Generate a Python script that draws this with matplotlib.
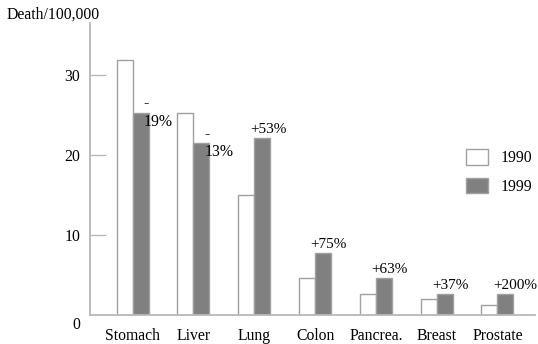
import numpy as np
from matplotlib import pyplot as plt
from matplotlib import transforms

# Chart data
cancers = ["Stomach", "Liver", "Lung", "Colon", "Pancrea.", "Breast", "Prostate"]
deaths_1990 = [31.9, 25.3, 15.0, 4.6, 2.6, 2.0, 1.3]
deaths_1999 = [25.3, 21.5, 22.1, 7.8, 4.6, 2.6, 2.6]
changes = ["-\n19%", "-\n13%", "+53%", "+75%", "+63%", "+37%", "+200%"]
years = ["1990", "1999"]
y_ticks = [10, 20, 30]

plt.rcParams["font.family"] = ["Liberation Serif", "DejaVu Serif"]
plt.rcParams["font.size"] = 11.3

fig = plt.figure(figsize=(5.38, 3.44), dpi=100)
ax = fig.add_axes([0.1673, 0.0843, 0.8271, 0.8488])

x = np.arange(len(cancers))
w = 0.263
edge = "#a0a0a0"
grey = "#808080"

bars_a = ax.bar(x - w / 2, deaths_1990, w, color="white", edgecolor=edge,
                linewidth=1, label=years[0])
bars_b = ax.bar(x + w / 2, deaths_1999, w, color=grey, edgecolor=edge,
                linewidth=1, label=years[1])

# percentage change labels
for i, txt in enumerate(changes):
    top = deaths_1999[i]
    if txt.startswith("-"):
        off = transforms.offset_copy(ax.transData, fig=fig, x=-5, y=0,
                                     units="dots")
        ax.text(x[i] + w, top, txt, ha="left", va="center", transform=off,
                linespacing=1.2)
    else:
        off = transforms.offset_copy(ax.transData, fig=fig, x=-4.5, y=2,
                                     units="dots")
        ax.text(x[i], top, txt, ha="left", va="bottom", transform=off,
                fontsize=11)

ax.set_xlim(-0.702, 6.617)
ax.set_ylim(0, 36.5)
ax.set_xticks(x)
ax.set_xticklabels(cancers)
ax.set_yticks(y_ticks)

for s in ["top", "right"]:
    ax.spines[s].set_visible(False)
for s in ["left", "bottom"]:
    ax.spines[s].set_color("#b8b8b8")
    ax.spines[s].set_linewidth(1.3)

ax.tick_params(axis="y", direction="in", length=11.5, width=1,
               color="#b8b8b8", pad=7)
ax.tick_params(axis="x", length=0, pad=9.5)

# the zero label sits a bit below the baseline
zero_off = transforms.offset_copy(ax.get_yaxis_transform(), fig=fig,
                                  x=-10, y=-10, units="dots")
ax.text(0, 0, "0", ha="right", va="center", transform=zero_off)

fig.text(7 / 538, 1 - 15 / 344, "Death/100,000", ha="left", va="center")

ax.legend(loc="upper left", bbox_to_anchor=(466 / 538, 1 - 149 / 344),
          bbox_transform=fig.transFigure, frameon=False, borderpad=0,
          borderaxespad=0, handlelength=1.4, handleheight=1.15,
          handletextpad=0.8, labelspacing=0.75)

fig.savefig("out.png", dpi=100)
